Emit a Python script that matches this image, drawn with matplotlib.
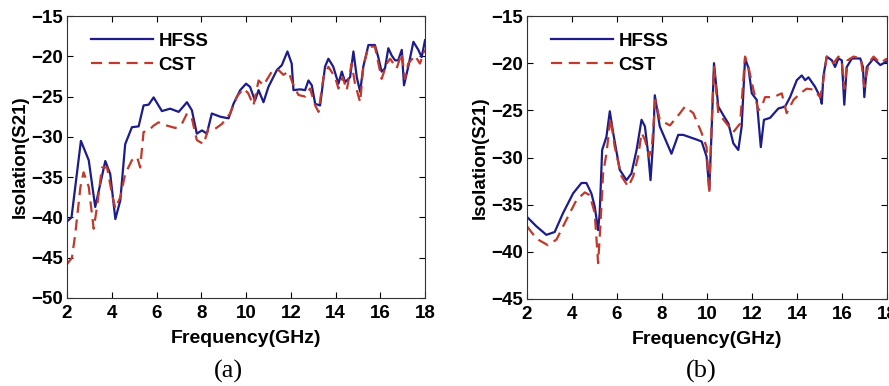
import matplotlib
matplotlib.use("Agg")
import matplotlib.pyplot as plt

# ---- data: panel (a) ----
fa_hfss = [2.0, 2.2, 2.62, 2.97, 3.26, 3.71, 3.93, 4.16, 4.38, 4.6, 4.9, 5.2, 5.42, 5.65, 5.87,
           6.24, 6.61, 6.99, 7.36, 7.58, 7.8, 8.03, 8.25, 8.47, 8.85, 9.22, 9.44, 9.74, 10.0,
           10.18, 10.4, 10.56, 10.78, 11.0, 11.38, 11.6, 11.85, 12.04, 12.12, 12.42, 12.64,
           12.79, 12.94, 13.09, 13.31, 13.53, 13.68, 13.9, 14.13, 14.28, 14.43, 14.65, 14.8,
           14.95, 15.1, 15.24, 15.47, 15.76, 15.91, 16.06, 16.21, 16.36, 16.51, 16.66, 16.8,
           16.96, 17.06, 17.25, 17.48, 17.7, 17.85, 18.0]
sa_hfss = [-40.5, -40.0, -30.5, -32.9, -38.7, -33.0, -34.6, -40.2, -37.9, -30.9, -28.8, -28.7,
           -26.1, -26.0, -25.1, -26.8, -26.5, -26.9, -25.7, -26.7, -29.6, -29.2, -29.6, -27.1,
           -27.5, -27.7, -25.9, -24.2, -23.4, -23.8, -25.5, -24.2, -25.7, -23.8, -21.7, -21.1,
           -19.4, -20.9, -24.2, -24.1, -24.2, -23.0, -23.6, -25.9, -26.1, -21.3, -20.3, -21.3,
           -23.4, -21.9, -23.2, -22.6, -19.4, -22.6, -24.4, -21.3, -18.6, -18.6, -20.1, -21.9,
           -21.5, -19.0, -19.9, -20.5, -20.5, -19.2, -23.6, -21.3, -18.2, -19.2, -20.1, -18.0]

fa_cst = [2.0, 2.22, 2.37, 2.6, 2.74, 2.97, 3.19, 3.34, 3.56, 3.79, 4.01, 4.16, 4.38, 4.6, 4.9,
          5.13, 5.27, 5.42, 5.65, 5.87, 6.09, 6.46, 6.84, 7.13, 7.36, 7.58, 7.8, 8.1, 8.32, 8.62,
          8.92, 9.29, 9.59, 9.89, 10.1, 10.33, 10.56, 10.78, 11.15, 11.45, 11.67, 11.9, 12.09,
          12.34, 12.64, 12.86, 13.09, 13.24, 13.46, 13.68, 13.98, 14.13, 14.32, 14.5, 14.72,
          14.87, 15.1, 15.24, 15.47, 15.76, 16.06, 16.29, 16.44, 16.73, 16.96, 17.1, 17.25,
          17.55, 17.77, 18.0]
sa_cst = [-45.8, -45.0, -42.0, -36.2, -34.4, -36.2, -41.4, -38.7, -33.8, -33.8, -37.1, -38.9,
          -37.5, -34.6, -32.9, -32.5, -33.8, -29.4, -29.2, -28.6, -28.2, -28.6, -28.9, -28.4,
          -27.1, -27.7, -30.4, -30.9, -29.0, -29.0, -28.4, -27.1, -25.0, -24.0, -24.6, -26.1,
          -23.0, -23.6, -21.9, -21.7, -22.3, -21.9, -23.4, -24.8, -25.0, -24.0, -26.1, -26.9,
          -22.6, -21.3, -22.6, -24.0, -22.6, -24.2, -20.9, -23.4, -25.7, -21.3, -18.8, -18.8,
          -22.8, -20.9, -20.3, -21.5, -19.6, -22.8, -20.9, -19.9, -20.9, -19.2]

# ---- data: panel (b) ----
fb_hfss = [2.0, 2.42, 2.86, 3.23, 3.6, 4.05, 4.42, 4.64, 4.86, 5.01, 5.16, 5.23, 5.34, 5.53,
           5.68, 5.83, 6.12, 6.42, 6.64, 6.87, 7.09, 7.24, 7.39, 7.49, 7.61, 7.68, 7.9, 8.42,
           8.72, 8.94, 9.54, 9.76, 9.98, 10.1, 10.2, 10.31, 10.5, 10.72, 10.95, 11.17, 11.39,
           11.54, 11.69, 11.84, 11.99, 12.21, 12.39, 12.53, 12.8, 13.17, 13.47, 13.69, 13.99,
           14.21, 14.36, 14.51, 14.8, 15.03, 15.1, 15.17, 15.32, 15.55, 15.69, 15.84, 15.99,
           16.1, 16.21, 16.44, 16.81, 16.93, 16.99, 17.1, 17.4, 17.7, 18.0]
sb_hfss = [-36.3, -37.3, -38.2, -37.9, -35.9, -33.8, -32.7, -32.7, -33.8, -35.2, -37.7, -35.9,
           -29.2, -27.8, -25.1, -27.4, -31.3, -32.4, -31.7, -29.2, -26.0, -26.7, -29.7, -32.4,
           -28.1, -23.4, -26.7, -29.6, -27.6, -27.6, -28.1, -28.3, -29.9, -33.4, -27.4, -20.0,
           -24.6, -25.5, -26.4, -28.5, -29.2, -26.7, -19.5, -20.5, -23.2, -23.9, -28.9, -26.0,
           -25.8, -24.8, -24.6, -23.6, -21.8, -21.3, -21.8, -21.5, -22.5, -23.6, -24.3, -21.4,
           -19.3, -19.7, -20.4, -19.5, -19.7, -24.4, -20.4, -19.5, -19.5, -20.4, -23.6, -20.4,
           -19.5, -20.2, -19.8]

fb_cst = [2.0, 2.42, 2.93, 3.31, 3.75, 4.2, 4.57, 4.79, 5.01, 5.16, 5.26, 5.38, 5.53, 5.71,
          5.9, 6.2, 6.5, 6.72, 6.94, 7.09, 7.24, 7.43, 7.56, 7.71, 7.9, 8.35, 8.8, 9.02, 9.39,
          9.76, 9.98, 10.1, 10.2, 10.31, 10.5, 10.8, 11.17, 11.47, 11.69, 11.84, 12.06, 12.28,
          12.43, 12.58, 12.95, 13.32, 13.54, 13.84, 14.14, 14.43, 14.73, 15.03, 15.17, 15.32,
          15.62, 15.84, 15.99, 16.1, 16.24, 16.51, 16.84, 16.99, 17.18, 17.4, 17.7, 18.0]
sb_cst = [-37.3, -38.6, -39.3, -38.7, -36.6, -34.5, -33.7, -34.0, -35.9, -41.2, -37.3, -31.7,
          -29.6, -25.8, -28.9, -32.0, -33.1, -32.0, -29.9, -27.4, -28.1, -29.9, -28.5, -23.9,
          -26.0, -26.6, -25.3, -24.6, -25.3, -27.4, -28.9, -33.8, -26.7, -20.4, -25.3, -26.2,
          -27.3, -26.4, -19.3, -20.4, -22.8, -25.0, -24.6, -23.6, -23.6, -23.2, -25.3, -23.9,
          -23.2, -22.7, -22.8, -23.6, -21.8, -19.3, -20.0, -19.3, -19.8, -22.7, -19.7, -19.3,
          -19.5, -22.5, -20.0, -19.3, -20.0, -19.5]

x_ticks = [2, 4, 6, 8, 10, 12, 14, 16, 18]
ya_ticks = [-50, -45, -40, -35, -30, -25, -20, -15]
yb_ticks = [-45, -40, -35, -30, -25, -20, -15]
series_labels = ["HFSS", "CST"]
captions = ["(a)", "(b)"]
xlabel = "Frequency(GHz)"
ylabel = "Isolation(S21)"

plt.rcParams['font.family'] = ['Liberation Sans', 'DejaVu Sans']

fig = plt.figure(figsize=(8.89, 3.86), dpi=100)
ax_a = fig.add_axes([0.0754, 0.228, 0.4027, 0.7305])
ax_b = fig.add_axes([0.5928, 0.2254, 0.405, 0.7331])

c_hfss = "#1c1c8a"
c_cst = "#c0392b"

def style(ax, yticks, ylim):
    ax.set_xlim(2, 18)
    ax.set_ylim(*ylim)
    ax.set_xticks(x_ticks)
    ax.set_yticks(yticks)
    ax.tick_params(direction="in", top=True, right=True, length=4, width=0.8,
                   labelsize=13.5, pad=3)
    ax.tick_params(axis="x", pad=5)
    for lab in ax.get_xticklabels() + ax.get_yticklabels():
        lab.set_fontweight("bold")
    for s in ax.spines.values():
        s.set_linewidth(0.8)
        s.set_color("#333333")
    ax.set_xlabel(xlabel, fontsize=14, fontweight="bold", labelpad=6)
    ax.set_ylabel(ylabel, fontsize=13.5, fontweight="bold", labelpad=2)
    leg = ax.legend(loc="upper left", frameon=False, fontsize=13.5, handlelength=3.3,
                    handletextpad=0.3, labelspacing=0.35, borderaxespad=0.5,
                    bbox_to_anchor=(0.02, 1.0))
    for t in leg.get_texts():
        t.set_fontweight("bold")

ax_a.plot(fa_hfss, sa_hfss, color=c_hfss, lw=1.6, label=series_labels[0])
ax_a.plot(fa_cst, sa_cst, color=c_cst, lw=1.6, ls=(0, (5, 3)), label=series_labels[1])
style(ax_a, ya_ticks, (-50, -15))

ax_b.plot(fb_hfss, sb_hfss, color=c_hfss, lw=1.6, label=series_labels[0])
ax_b.plot(fb_cst, sb_cst, color=c_cst, lw=1.6, ls=(0, (5, 3)), label=series_labels[1])
style(ax_b, yb_ticks, (-45, -15))

fig.text(228 / 889, 1 - 371 / 386, captions[0], ha="center", va="center",
         fontsize=19, family="Liberation Serif")
fig.text(701 / 889, 1 - 371 / 386, captions[1], ha="center", va="center",
         fontsize=19, family="Liberation Serif")

fig.savefig("out.png", dpi=100)
